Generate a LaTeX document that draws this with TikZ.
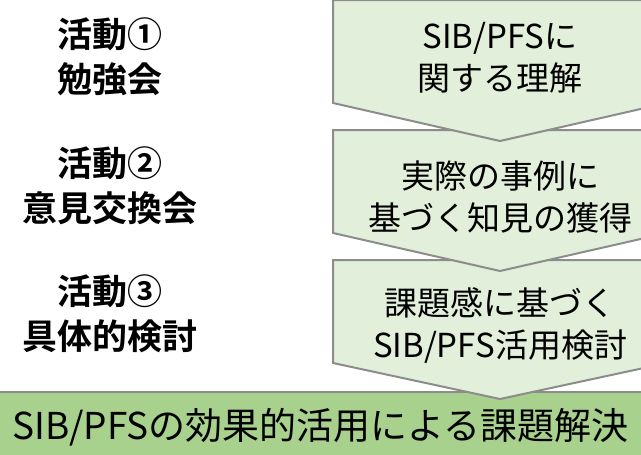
\documentclass[tikz,border=0pt]{standalone}
\usepackage{fontspec}
\setmainfont{Noto Sans CJK JP}[BoldFont={* Bold}]
\usepackage{xcolor}
\usepackage{tikz}
\usetikzlibrary{positioning, backgrounds}
\definecolor{stepbg}{HTML}{E2EFDA}
\definecolor{goalbg}{HTML}{A9D18E}
\definecolor{edge}{HTML}{8C8C8C}
\tikzset{
    stage/.style={rectangle, minimum width=334pt, minimum height=103pt, inner sep=0pt,
                  outer sep=0pt},
    stagetext/.style={align=center, inner sep=0pt, font=\fontsize{33}{42}\selectfont},
    actlabel/.style={align=center, inner sep=0pt, font=\bfseries\fontsize{35}{45}\selectfont},
    goalbar/.style={rectangle, minimum width=641pt, minimum height=70pt, inner sep=0pt,
                    outer sep=0pt, font=\fontsize{37}{44}\selectfont},
    chev/.style={draw=edge, fill=stepbg, line width=2pt, line join=miter},
}

\begin{document}
\begin{tikzpicture}[x=1pt, y=1pt]
  \useasboundingbox (0,0) rectangle (641,-455);

  % Three stages
  \node[stage] (s1) at (500,-51.5) {};
  \node[stage, below=27pt of s1] (s2) {};
  \node[stage, below=27pt of s2] (s3) {};

  \node[stagetext] (t1) at ([yshift=-6pt]s1.center) {SIB/PFSに\\関する理解};
  \node[stagetext] (t2) at ([yshift=-15pt]s2.center) {実際の事例に\\基づく知見の獲得};
  \node[stagetext] (t3) at ([yshift=-14pt]s3.center) {課題感に基づく\\SIB/PFS活用検討};

  \node[actlabel] (a1) at ([xshift=-390pt, yshift=-5pt]s1.center) {活動①\\勉強会};
  \node[actlabel] (a2) at ([xshift=-390pt, yshift=-4pt]s2.center) {活動②\\意見交換会};
  \node[actlabel] (a3) at ([xshift=-390pt, yshift=-2pt]s3.center) {活動③\\具体的検討};

  \node[goalbar] (goal) at (320.5,-427) {SIB/PFSの効果的活用による課題解決};

  \begin{scope}[on background layer]
    \fill[goalbg] (goal.north west) rectangle (goal.south east);
    \draw[edge, line width=2pt] (goal.north west) -- (goal.north east);
    \draw[chev] (s3.north west) -- (s3.north east) -- (s3.south east)
                -- ([yshift=-36pt]s3.south) -- (s3.south west) -- cycle;
    \draw[chev] (s2.north west) -- (s2.north east) -- (s2.south east)
                -- ([yshift=-38pt]s2.south) -- (s2.south west) -- cycle;
    \draw[chev] (s1.north west) -- (s1.north east) -- (s1.south east)
                -- ([yshift=-38pt]s1.south) -- (s1.south west) -- cycle;
  \end{scope}

\end{tikzpicture}
\end{document}
